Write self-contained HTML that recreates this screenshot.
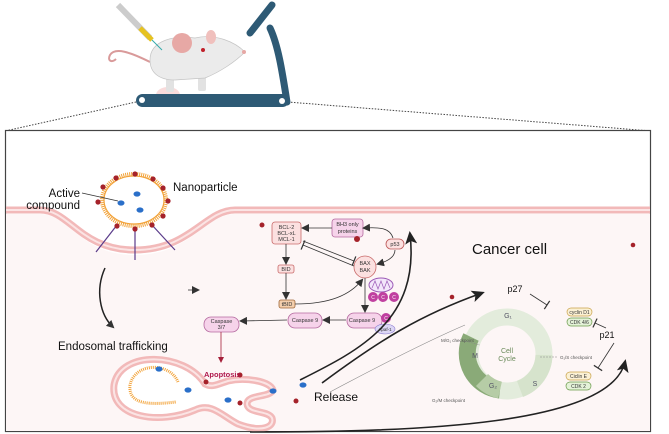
<!DOCTYPE html>
<html><head><meta charset="utf-8"><style>
html,body{margin:0;padding:0;background:#fff;}
svg{display:block;font-family:"Liberation Sans",sans-serif;}
</style></head><body>
<svg width="669" height="434" viewBox="0 0 669 434" xmlns="http://www.w3.org/2000/svg">
<defs>
<marker id="ah" markerWidth="8" markerHeight="8" refX="6" refY="4" orient="auto" markerUnits="userSpaceOnUse"><path d="M0,0 L8,4 L0,8 Z" fill="#333"/></marker>
<marker id="ahb" markerWidth="14" markerHeight="12" refX="10" refY="6" orient="auto" markerUnits="userSpaceOnUse"><path d="M0,0 L13,6 L0,12 L3,6 Z" fill="#222"/></marker>
<marker id="ahr" markerWidth="6" markerHeight="6" refX="5" refY="3" orient="auto" markerUnits="userSpaceOnUse"><path d="M0,0 L6,3 L0,6 Z" fill="#a5203a"/></marker>
<marker id="tb" markerWidth="2" markerHeight="10" refX="1" refY="5" orient="auto" markerUnits="userSpaceOnUse"><path d="M1,0 L1,10" stroke="#333" stroke-width="1.2"/></marker>
</defs>

<!-- dotted lines -->
<line x1="136" y1="102" x2="5" y2="131" stroke="#444" stroke-dasharray="1.5,1.5" stroke-width="1"/>
<line x1="288" y1="102" x2="651" y2="131" stroke="#444" stroke-dasharray="1.5,1.5" stroke-width="1"/>

<!-- treadmill -->
<path d="M287,102 C282,70 278,45 270,28" stroke="#2e5a75" stroke-width="7" fill="none" stroke-linecap="round"/>
<path d="M250,33 L272,5" stroke="#2e5a75" stroke-width="7" stroke-linecap="round"/>
<ellipse cx="168" cy="95" rx="12" ry="8" fill="#f4b8b8" opacity="0.5"/>
<!-- mouse -->
<path d="M150,62 C130,52 115,47 110,55 C107,61 112,63 116,59" stroke="#d99a9a" stroke-width="2" fill="none"/>
<rect x="166" y="76" width="8" height="16" rx="2" fill="#e2e2e2"/><rect x="198" y="74" width="8" height="17" rx="2" fill="#e2e2e2"/>
<path d="M150,60 C150,40 175,35 195,38 C215,33 235,42 245,52 C235,62 220,72 205,78 L175,80 C158,80 150,72 150,60 Z" fill="#ebebeb" stroke="#c4c4c4" stroke-width="0.7"/>
<ellipse cx="182" cy="43" rx="10" ry="10" fill="#e7a8a5"/>
<ellipse cx="211" cy="37" rx="5" ry="7" fill="#f0c0bd"/>
<circle cx="203" cy="50" r="2" fill="#c0202a"/>
<circle cx="244" cy="52" r="2" fill="#e7a8a5"/>
<line x1="118" y1="5" x2="150" y2="38" stroke="#ccc" stroke-width="6"/>
<line x1="140" y1="28" x2="152" y2="40" stroke="#e6c220" stroke-width="5"/>
<line x1="152" y1="40" x2="162" y2="50" stroke="#3aa" stroke-width="1"/>
<rect x="136" y="94" width="153" height="13" rx="6.5" fill="#2e5a75"/>
<circle cx="142" cy="100" r="3" fill="#fff"/><circle cx="282" cy="101" r="3" fill="#fff"/>

<!-- box -->
<rect x="5.5" y="130.5" width="645" height="301" fill="#fff" stroke="#444" stroke-width="1.2"/>
<!-- cell interior -->
<path d="M6,214 L40,214 C70,214 80,255 135,255 C190,255 205,214 235,214 L650,214 L650,431 L6,431 Z" fill="#fdf6f6"/>
<!-- membrane -->
<path d="M6,210 L40,210 C70,210 80,250 135,250 C190,250 205,210 235,210 L650,210" stroke="#f2b9b9" stroke-width="7" fill="none"/>
<path d="M6,210 L40,210 C70,210 80,250 135,250 C190,250 205,210 235,210 L650,210" stroke="#fbe4e4" stroke-width="2" fill="none"/>

<!-- receptors -->
<g stroke="#5a3b8a" stroke-width="1.2">
<line x1="117" y1="225" x2="96" y2="252"/><line x1="135" y1="228" x2="135" y2="260"/><line x1="152" y1="225" x2="175" y2="250"/>
</g>
<!-- nanoparticle -->
<ellipse cx="134" cy="200" rx="32" ry="26" fill="#fff" stroke="#f2a33a" stroke-width="4" stroke-dasharray="1,1"/>
<ellipse cx="134" cy="200" rx="30" ry="24" fill="#fff" stroke="#f2a33a" stroke-width="1.2"/>
<g fill="#a5222a">
<circle cx="116" cy="178" r="2.6"/><circle cx="135" cy="174" r="2.6"/><circle cx="153" cy="179" r="2.6"/><circle cx="163" cy="188" r="2.6"/><circle cx="168" cy="201" r="2.6"/><circle cx="163" cy="216" r="2.6"/><circle cx="152" cy="225" r="2.6"/><circle cx="135" cy="229" r="2.6"/><circle cx="117" cy="226" r="2.6"/><circle cx="98" cy="202" r="2.6"/><circle cx="103" cy="187" r="2.6"/>
</g>
<g fill="#2a6fc9"><ellipse cx="121" cy="203" rx="3.5" ry="2.6"/><ellipse cx="137" cy="194" rx="3.5" ry="2.6"/><ellipse cx="140" cy="210" rx="3.5" ry="2.6"/></g>
<line x1="82" y1="193" x2="118" y2="201" stroke="#333" stroke-width="0.8"/>
<text x="80" y="197" font-size="11.5" text-anchor="end" fill="#111">Active</text>
<text x="80" y="209" font-size="11.5" text-anchor="end" fill="#111">compound</text>
<text x="173" y="191" font-size="11.5" fill="#111">Nanoparticle</text>

<!-- trafficking arrow -->
<path d="M105,268 C95,290 100,315 113,327" stroke="#222" stroke-width="1.5" fill="none" marker-end="url(#ah)"/>
<text x="58" y="350" font-size="11.5" fill="#111">Endosomal trafficking</text>
<line x1="188" y1="290" x2="198" y2="290" stroke="#333" stroke-width="0.8" marker-end="url(#ah)"/>

<!-- endosome -->
<path d="M205,384 C185,352 120,350 114,385 C110,418 160,425 195,410 C212,402 222,416 238,424 C262,433 275,427 272,418 C268,410 248,414 247,404 C247,394 270,398 273,390 C270,381 245,377 228,381 C218,384 212,388 205,384 Z" fill="#fff" stroke="#f2b9b9" stroke-width="7"/>
<path d="M205,384 C185,352 120,350 114,385 C110,418 160,425 195,410 C212,402 222,416 238,424 C262,433 275,427 272,418 C268,410 248,414 247,404 C247,394 270,398 273,390 C270,381 245,377 228,381 C218,384 212,388 205,384 Z" fill="none" stroke="#fbe4e4" stroke-width="2"/>
<path d="M178,382 C170,362 135,362 130,385 C128,405 150,405 176,402" fill="none" stroke="#f2a33a" stroke-width="3" stroke-dasharray="1,1"/>
<g fill="#2a6fc9"><ellipse cx="159" cy="369" rx="3.5" ry="2.6"/><ellipse cx="188" cy="390" rx="3.5" ry="2.6"/><ellipse cx="228" cy="400" rx="3.5" ry="2.6"/><ellipse cx="273" cy="391" rx="3.5" ry="2.6"/><ellipse cx="303" cy="385" rx="3.5" ry="2.6"/></g>
<g fill="#a5222a"><circle cx="206" cy="382" r="2.5"/><circle cx="240" cy="375" r="2.5"/><circle cx="240" cy="403" r="2.5"/><circle cx="296" cy="401" r="2.5"/><circle cx="262" cy="225" r="2.5"/><circle cx="633" cy="245" r="2.3"/><circle cx="452" cy="297" r="2.3"/></g>
<text x="314" y="401" font-size="12" fill="#111">Release</text>
<text x="472" y="254" font-size="15" fill="#111">Cancer cell</text>

<!-- pathway -->
<g font-size="5.5" fill="#333" text-anchor="middle">
<rect x="272" y="222" width="29" height="22" rx="3" fill="#fbe0e0" stroke="#c96a6a" stroke-width="0.8"/>
<text x="286.5" y="229">BCL-2</text><text x="286.5" y="235">BCL-xL</text><text x="286.5" y="241">MCL-1</text>
<rect x="332" y="219" width="31" height="18" rx="3" fill="#f6d3ea" stroke="#b56aa0" stroke-width="0.8"/>
<text x="347.5" y="226">BH3 only</text><text x="347.5" y="233">proteins</text>
<rect x="386" y="239" width="18" height="10" rx="5" fill="#fbe0e0" stroke="#b55" stroke-width="0.8"/>
<text x="395" y="246">p53</text>
<circle cx="365" cy="267" r="11" fill="#fbe0e0" stroke="#c96a6a" stroke-width="0.8"/>
<text x="365" y="265">BAX</text><text x="365" y="272">BAK</text>
<rect x="278" y="265" width="16" height="8" rx="2" fill="#fbe0e0" stroke="#c96a6a" stroke-width="0.8"/><text x="286" y="271">BID</text>
<rect x="279" y="300" width="16" height="8" rx="2" fill="#f4cfae" stroke="#a0683a" stroke-width="0.8"/><text x="287" y="306">tBID</text>
<rect x="347" y="313" width="35" height="15" rx="7" fill="#f6d3ea" stroke="#b56aa0" stroke-width="0.8"/><text x="362" y="322">Caspase 9</text>
<rect x="288" y="313" width="34" height="15" rx="7" fill="#f6d3ea" stroke="#b56aa0" stroke-width="0.8"/><text x="305" y="322">Caspase 9</text>
<rect x="204" y="317" width="35" height="15" rx="7" fill="#f6d3ea" stroke="#b56aa0" stroke-width="0.8"/><text x="221.5" y="323">Caspase</text><text x="221.5" y="329">3/7</text>
<ellipse cx="385" cy="329" rx="10" ry="5" fill="#dcd6f5" stroke="#8a7ad0" stroke-width="0.6"/><text x="385" y="331" font-size="4.5">Apaf-1</text>
</g>
<ellipse cx="381" cy="285" rx="12" ry="7" fill="#f3e6fa" stroke="#9b59b6" stroke-width="1"/>
<path d="M372,288 L375,281 L378,289 L381,281 L384,289 L387,281 L390,288" stroke="#9b59b6" stroke-width="0.7" fill="none"/>
<g fill="#c040a0"><circle cx="373" cy="297" r="5"/><circle cx="383" cy="297" r="5"/><circle cx="394" cy="297" r="5"/><circle cx="386" cy="318" r="5"/></g>
<g fill="#fff" font-size="5" text-anchor="middle"><text x="373" y="299">C</text><text x="383" y="299">C</text><text x="394" y="299">C</text><text x="386" y="320">C</text></g>
<circle cx="357" cy="239" r="3" fill="#a5222a"/>
<g stroke="#333" stroke-width="0.8" fill="none">
<line x1="332" y1="228" x2="303" y2="228" marker-end="url(#ah)"/>
<path d="M393,238 C390,228 380,227 364,228" marker-end="url(#ah)"/>
<path d="M395,250 C395,258 385,262 378,264" marker-end="url(#ah)"/>
<line x1="303" y1="241" x2="354" y2="261" marker-end="url(#tb)"/>
<line x1="354" y1="266" x2="303" y2="245" marker-end="url(#tb)"/>
<line x1="286" y1="244" x2="286" y2="263" marker-end="url(#ah)"/>
<line x1="286" y1="273" x2="286" y2="298" marker-end="url(#ah)"/>
<path d="M295,304 C330,304 350,295 362,280" marker-end="url(#ah)"/>
<line x1="365" y1="278" x2="365" y2="311" marker-end="url(#ah)"/>
<line x1="346" y1="320" x2="324" y2="320" marker-end="url(#ah)"/>
<line x1="287" y1="320" x2="241" y2="321" marker-end="url(#ah)"/>
</g>
<line x1="221" y1="332" x2="221" y2="362" stroke="#a5203a" stroke-width="0.8" marker-end="url(#ahr)"/>
<text x="204" y="377" font-size="7.5" font-weight="bold" fill="#b0194d">Apoptosis</text>

<!-- big arrows -->
<path d="M300,380 C360,350 420,320 410,234" stroke="#222" stroke-width="1.6" fill="none" marker-end="url(#ahb)"/>
<path d="M322,383 C380,340 420,315 482,293" stroke="#222" stroke-width="1.6" fill="none" marker-end="url(#ahb)"/>
<path d="M330,392 C390,360 430,340 465,325" stroke="#888" stroke-width="0.6" fill="none"/>
<path d="M250,432 C420,432 610,425 625,362" stroke="#222" stroke-width="1.6" fill="none" marker-end="url(#ahb)"/>

<!-- cell cycle -->
<circle cx="507" cy="354" r="37" fill="none" stroke="#e3ecdc" stroke-width="17"/>
<path d="M471,337 A37,37 0 0,0 500,390" fill="none" stroke="#8aaa78" stroke-width="17"/>
<path d="M482,380 A37,37 0 0,0 500,390" fill="none" stroke="#b6cca6" stroke-width="17"/>
<path d="M520,389 A37,37 0 0,0 544,355" fill="none" stroke="#d6e3cc" stroke-width="17"/>
<g font-size="7" fill="#556" text-anchor="middle">
<text x="508" y="318">G₁</text><text x="475" y="358">M</text><text x="493" y="388">G₂</text><text x="535" y="386">S</text>
<text x="507" y="353" fill="#6a8a5a">Cell</text><text x="507" y="361" fill="#6a8a5a">Cycle</text>
</g>
<g font-size="4.5" fill="#555">
<text x="441" y="342">M/G₁ checkpoint</text><text x="432" y="402">G₂/M checkpoint</text><text x="560" y="359">G₁/S checkpoint</text>
</g>
<line x1="465" y1="341" x2="480" y2="345" stroke="#888" stroke-width="0.5" stroke-dasharray="2,1"/>
<line x1="540" y1="357" x2="558" y2="357" stroke="#888" stroke-width="0.5" stroke-dasharray="2,1"/>
<g font-size="5" fill="#333" text-anchor="middle">
<rect x="567" y="308" width="25" height="8" rx="4" fill="#fbf0d4" stroke="#c9a34a" stroke-width="0.7"/><text x="579.5" y="314">cyclin D1</text>
<rect x="567" y="318" width="25" height="8" rx="4" fill="#e4f2d8" stroke="#6a9a4a" stroke-width="0.7"/><text x="579.5" y="324">CDK 4/6</text>
<rect x="566" y="372" width="25" height="8" rx="4" fill="#fbf0d4" stroke="#c9a34a" stroke-width="0.7"/><text x="578.5" y="378">Ciclin E</text>
<rect x="566" y="382" width="25" height="8" rx="4" fill="#e4f2d8" stroke="#6a9a4a" stroke-width="0.7"/><text x="578.5" y="388">CDK 2</text>
</g>
<text x="515" y="292" font-size="9" fill="#111" text-anchor="middle">p27</text>
<text x="607" y="338" font-size="9" fill="#111" text-anchor="middle">p21</text>
<g stroke="#333" stroke-width="0.8">
<line x1="530" y1="294" x2="547" y2="305" marker-end="url(#tb)"/>
<line x1="606" y1="328" x2="595" y2="323" marker-end="url(#tb)"/>
<line x1="614" y1="343" x2="598" y2="368" marker-end="url(#tb)"/>
</g>
</svg>
</body></html>
